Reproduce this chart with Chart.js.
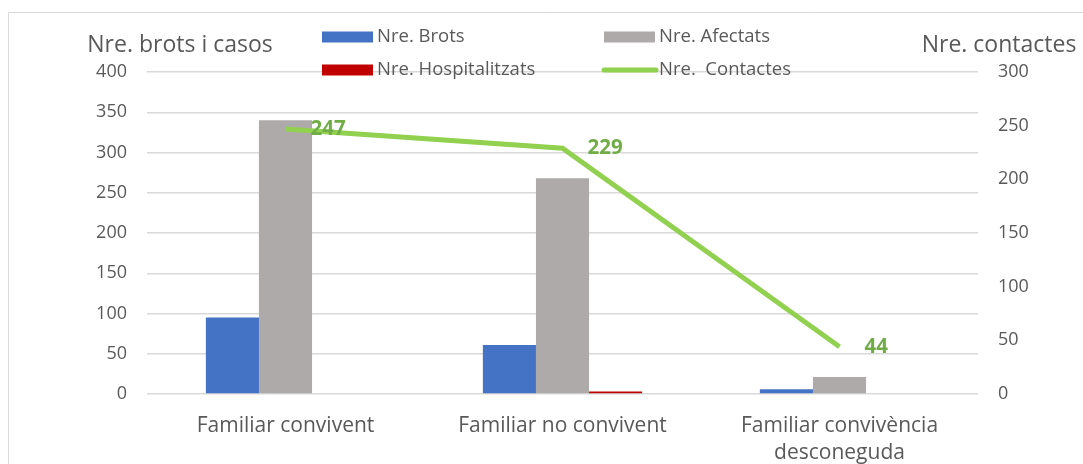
<!DOCTYPE html>
<html lang="ca">
<head>
<meta charset="UTF-8">
<title>Brots per àmbit familiar</title>
<script src="https://cdn.jsdelivr.net/npm/chart.js"></script>
<style>
  html, body { margin: 0; padding: 0; background: #fff; }
  #wrap { width: 1083px; height: 464px; }
</style>
</head>
<body>
<div id="wrap"><canvas id="myChart" width="1083" height="464"></canvas></div>
<script>
// dades
const categories = ['Familiar convivent', 'Familiar no convivent', ['Familiar convivència', 'desconeguda']];
const brots = [95, 61, 6];
const afectats = [340, 268, 21];
const hospitalitzats = [1, 3, 0];
const contactes = [247, 229, 44];
const leftTicks = [0, 400, 50];   // min, max, pas
const rightTicks = [0, 300, 50];

const FONT = '"Open Sans", "Liberation Sans", sans-serif';
const TEXT = '#595959';

// llegenda, títols d'eixos, vora i etiquetes de la línia
const extras = {
  id: 'extras',
  beforeDraw(chart) {
    const c = chart.ctx;
    c.save();
    c.strokeStyle = '#d9d9d9';
    c.lineWidth = 1;
    c.beginPath();
    c.moveTo(8.5, 464);
    c.lineTo(8.5, 12.5);
    c.lineTo(1083, 12.5);
    c.stroke();
    c.restore();
  },
  afterDraw(chart) {
    const c = chart.ctx;
    c.save();
    c.fillStyle = TEXT;
    c.textBaseline = 'middle';
    c.font = '23px ' + FONT;
    c.textAlign = 'center';
    c.fillText('Nre. brots i casos', 180, 45);
    c.fillText('Nre. contactes', 999, 45);

    // llegenda
    const ds = chart.data.datasets;
    const slots = [[322, 37], [604, 37], [322, 70], [604, 70]];
    c.font = '18.5px ' + FONT;
    c.textAlign = 'left';
    ds.forEach((d, i) => {
      const [x, y] = slots[i];
      if (d.type === 'line') {
        c.strokeStyle = d.borderColor;
        c.lineWidth = 5;
        c.lineCap = 'round';
        c.beginPath();
        c.moveTo(x, y);
        c.lineTo(x + 52, y);
        c.stroke();
      } else {
        c.fillStyle = d.backgroundColor;
        c.fillRect(x, y - 5.5, 51, 11);
      }
      c.fillStyle = TEXT;
      c.fillText(d.label, x + 55, y);
    });

    // etiquetes de contactes
    const meta = chart.getDatasetMeta(3);
    c.font = 'bold 20.5px ' + FONT;
    c.fillStyle = '#70AD47';
    meta.data.forEach((p, i) => {
      c.fillText(String(contactes[i]), p.x + 25, p.y);
    });
    c.restore();
  }
};

const ctx = document.getElementById('myChart').getContext('2d');
new Chart(ctx, {
  type: 'bar',
  data: {
    labels: categories,
    datasets: [
      { label: 'Nre. Brots', data: brots, backgroundColor: '#4472C4', yAxisID: 'y', order: 1 },
      { label: 'Nre. Afectats', data: afectats, backgroundColor: '#AEAAAA', yAxisID: 'y', order: 1 },
      { label: 'Nre. Hospitalitzats', data: hospitalitzats, backgroundColor: '#C00000', yAxisID: 'y', order: 1 },
      { type: 'line', label: 'Nre.  Contactes', data: contactes, borderColor: '#92D050', backgroundColor: '#92D050',
        borderWidth: 5, pointRadius: 0, tension: 0, yAxisID: 'y1', order: 0 }
    ]
  },
  options: {
    responsive: false,
    animation: false,
    layout: { padding: { top: 72 } },
    datasets: { bar: { categoryPercentage: 0.575, barPercentage: 1 } },
    plugins: { legend: { display: false }, tooltip: { enabled: false } },
    scales: {
      x: {
        grid: { display: false },
        border: { display: false },
        ticks: { color: TEXT, font: { family: FONT, size: 21, lineHeight: 1.3 }, padding: 10, maxRotation: 0 },
        afterFit(s) { s.height = 70; }
      },
      y: {
        position: 'left',
        min: leftTicks[0], max: leftTicks[1],
        ticks: { stepSize: leftTicks[2], color: TEXT, font: { family: FONT, size: 18 }, padding: 20 },
        grid: { color: '#d9d9d9', lineWidth: 1.5, drawTicks: false },
        border: { display: false },
        afterFit(s) { s.width = 147; }
      },
      y1: {
        position: 'right',
        min: rightTicks[0], max: rightTicks[1],
        ticks: { stepSize: rightTicks[2], color: TEXT, font: { family: FONT, size: 18 }, padding: 20 },
        grid: { drawOnChartArea: false, drawTicks: false },
        border: { display: false },
        afterFit(s) { s.width = 105; }
      }
    }
  },
  plugins: [extras]
});
</script>
</body>
</html>
